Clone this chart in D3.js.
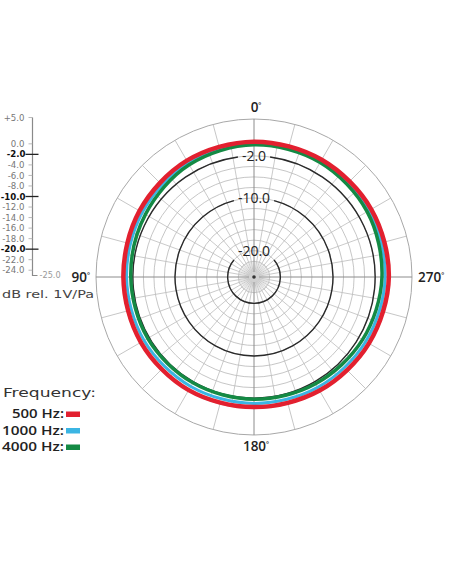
<!DOCTYPE html>
<html><head><meta charset="utf-8">
<script src="https://cdn.jsdelivr.net/npm/d3@7"></script>
<style>body{margin:0;background:#fff}svg{display:block}</style>
</head><body>
<svg id="c" width="452" height="584"></svg>
<script>
// ---- data ----
const angles = [0,30,60,90,120,150,180,210,240,270,300,330]; // degrees, counter-clockwise from top (90 = left)
const series500  = [0.7,0.5,0.1,-0.2,-0.2,-0.2,-0.3,-0.1,0.2,0.6,0.7,0.7];
const series1000 = [0.35,0.0,-0.5,-0.8,-0.9,-1.0,-1.0,-0.8,-0.5,-0.1,0.2,0.35];
const series4000 = [0.1,-0.4,-1.2,-1.6,-1.7,-1.8,-1.8,-1.6,-1.2,-0.7,-0.2,0.1];
const seriesNames = ["500 Hz:","1000 Hz:","4000 Hz:"];
const seriesColors = ["#e2202f","#3bb5e3","#148a44"];
const axisTicks = [5,0,-2,-4,-6,-8,-10,-12,-14,-16,-18,-20,-22,-24];
const majorTicks = [-2,-10,-20];
const angleLabels = [{deg:0,t:"0"},{deg:90,t:"90"},{deg:180,t:"180"},{deg:270,t:"270"}];
const unitLabel = "dB rel. 1V/Pa";
const legendTitle = "Frequency:";

const svg = d3.select("#c");
const font = "'Open Sans', sans-serif";
const wide = "'DejaVu Sans', sans-serif";
const cx = 254, cy = 277;
const r = d3.scaleLinear().domain([-25,5]).range([0,158]);
const g = svg.append("g").attr("transform",`translate(${cx},${cy})`);

// grey rings every 2 dB
const ringVals = d3.range(-24,1,2);
g.selectAll("circle.ring").data(ringVals).join("circle")
  .attr("r",d=>r(d)).attr("fill","none").attr("stroke","#b8b8b8").attr("stroke-width",0.8);
g.append("circle").attr("r",r(5)).attr("fill","none").attr("stroke","#a8a8a8").attr("stroke-width",1);

function spoke(deg,r0,r1,col,w){
  const a = -deg*Math.PI/180;
  g.append("line")
    .attr("x1",-Math.sin(a)*r0).attr("y1",-Math.cos(a)*r0)
    .attr("x2",-Math.sin(a)*r1).attr("y2",-Math.cos(a)*r1)
    .attr("stroke",col).attr("stroke-width",w);
}
// fine centre spokes
d3.range(0,360,5).forEach(d=>{ if(d%10) spoke(d,r(-24),r(-22),"#d0d0d0",0.6); });
// inner spokes every 10 deg
d3.range(0,360,10).forEach(d=>{ if(d%90) spoke(d,r(-24),r(0),"#bcbcbc",0.8); });
// outer band spokes every 15 deg
d3.range(0,360,15).forEach(d=>{ if(d%90) spoke(d,r(0),r(5),"#b8b8b8",0.8); });
// main axes
[0,90].forEach(d=>spoke(d,-r(5),r(5),"#8c8c8c",1));

// centre disc
g.append("circle").attr("r",r(-24)).attr("fill","#d0d0d0");
g.append("circle").attr("r",1.8).attr("fill","#333");

// black rings with labels
majorTicks.forEach(v=>{
  const rr = r(v);
  const t = g.append("text").attr("x",0).attr("y",-rr).attr("dy","0.35em")
    .attr("text-anchor","middle").attr("font-family",font).attr("font-size",14)
    .attr("font-weight",500).attr("fill","#222").text(v.toFixed(1));
  const w = t.node().getBBox().width;
  const half = Math.asin(Math.min(1,(w/2+4)/rr));
  const arc = d3.arc().innerRadius(rr).outerRadius(rr).startAngle(half).endAngle(2*Math.PI-half);
  g.insert("path","text").attr("d",arc()).attr("fill","none").attr("stroke","#2a2a2a").attr("stroke-width",1.4);
});

// curves
const allSeries = [series1000, series4000, series500];
const colorIdx = [1,2,0];
const widths = [3,3.5,4.5];
const line = d3.lineRadial().curve(d3.curveCardinalClosed.tension(0))
  .angle(d=>-d[0]*Math.PI/180).radius(d=>r(d[1]));
allSeries.forEach((s,i)=>{
  g.append("path").attr("d",line(angles.map((a,j)=>[a,s[j]])))
    .attr("fill","none").attr("stroke",seriesColors[colorIdx[i]]).attr("stroke-width",widths[i]);
});

// angle labels
function degLabel(x,y,anchor,txt){
  const t = svg.append("text").attr("x",x).attr("y",y).attr("dy","0.35em")
    .attr("text-anchor",anchor).attr("font-family",font).attr("font-size",13.5)
    .attr("font-weight",600).attr("fill","#222");
  t.append("tspan").text(txt);
  t.append("tspan").attr("font-size",7).attr("dy","-0.6em").text("°");
}
angleLabels.forEach(l=>{
  if(l.deg===0) degLabel(cx+2, cy-170, "middle", l.t);
  if(l.deg===180) degLabel(cx+2, cy+169, "middle", l.t);
  if(l.deg===90) degLabel(cx-164, cy, "end", l.t);
  if(l.deg===270) degLabel(cx+164, cy, "start", l.t);
});

// left dB axis
const y = d3.scaleLinear().domain([-25,5]).range([275.5,117.5]);
const ax = svg.append("g");
const axX = 32.5;
ax.append("path").attr("d",`M${axX},${y(5)}V${y(-25)}H${axX+5}`).attr("fill","none")
  .attr("stroke","#8a8a8a").attr("stroke-width",1.2);
axisTicks.forEach(v=>{
  const major = majorTicks.includes(v);
  ax.append("line").attr("x1",major?axX-7:axX-4).attr("x2",major?axX+6:axX)
    .attr("y1",y(v)).attr("y2",y(v)).attr("stroke",major?"#222":"#aaa").attr("stroke-width",major?1.3:0.8);
  ax.append("text").attr("x",major?axX-7:axX-8).attr("y",y(v)).attr("dy","0.36em")
    .attr("text-anchor","end").attr("font-family",wide).attr("font-size",8.6)
    .attr("font-weight",major?700:400).attr("fill",major?"#111":"#777")
    .text((v>0?"+":"")+v.toFixed(1));
});
ax.append("text").attr("x",axX+7).attr("y",y(-25)).attr("dy","0.35em")
  .attr("font-family",wide).attr("font-size",8.2).attr("fill","#999").text((-25).toFixed(1));
svg.append("text").attr("x",2).attr("y",294).attr("dy","0.35em")
  .attr("font-family",wide).attr("font-size",11).attr("fill","#444")
  .attr("textLength",92).attr("lengthAdjust","spacingAndGlyphs").text(unitLabel);

// legend
svg.append("text").attr("x",3).attr("y",393).attr("dy","0.35em")
  .attr("font-family",wide).attr("font-size",12.5).attr("fill","#333")
  .attr("textLength",93).attr("lengthAdjust","spacingAndGlyphs").text(legendTitle);
const legendWidths = [52,62,62];
seriesNames.forEach((n,i)=>{
  const yy = 414 + i*16.5;
  svg.append("text").attr("x",64).attr("y",yy).attr("dy","0.35em").attr("text-anchor","end")
    .attr("font-family",font).attr("font-size",12.5).attr("font-weight",600).attr("fill","#222")
    .attr("textLength",legendWidths[i]).attr("lengthAdjust","spacingAndGlyphs").text(n);
  svg.append("rect").attr("x",66).attr("y",yy-2.5).attr("width",14).attr("height",5.5)
    .attr("fill",seriesColors[i]);
});
</script>
</body></html>
